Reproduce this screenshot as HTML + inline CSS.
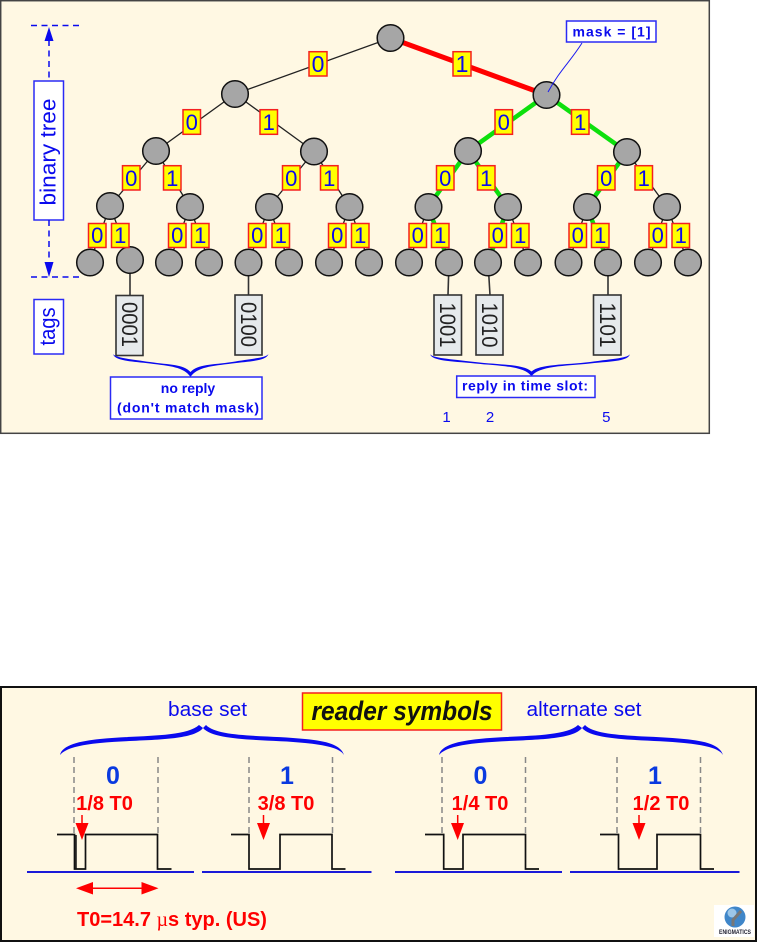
<!DOCTYPE html>
<html><head><meta charset="utf-8"><style>
html,body{margin:0;padding:0;background:#fff}
svg{display:block}
text{font-family:"Liberation Sans",sans-serif}
.e{stroke:#222;stroke-width:1.3;fill:none}
.r{stroke:#f00;stroke-width:5;fill:none}
.g{stroke:#0de00d;stroke-width:4.5;fill:none}
.n circle{fill:#a6a6a6;stroke:#111;stroke-width:1.5}
.l rect{fill:#ff0;stroke:#f52020;stroke-width:1.5}
.d{fill:#0a0aee;text-anchor:middle;font-size:22px}
.b{fill:#fff;stroke:#2a2af5;stroke-width:1.5}
.t{fill:#0a0aee;font-size:14px;font-weight:bold;text-anchor:middle}
.tag rect{fill:#e6eaec;stroke:#333;stroke-width:1.6}
.tag text{font-size:22px;fill:#222;text-anchor:middle}
.w{fill:none;stroke:#111;stroke-width:1.7}
.v{stroke:#888;stroke-width:1.5;stroke-dasharray:6 4;fill:none}
.bl{stroke:#1a1ad8;stroke-width:2}
.o{fill:#f00;font-size:20px;font-weight:bold;text-anchor:middle}
.z{fill:#0a3ae0;font-size:25px;font-weight:bold;text-anchor:middle}
.a{stroke:#f00;stroke-width:1.5}
</style></head><body>
<svg width="757" height="942" viewBox="0 0 757 942" xmlns="http://www.w3.org/2000/svg">
<rect x="0.7" y="0.7" width="708.6" height="432.6" fill="#fff8e3" stroke="#444" stroke-width="1.5"/>

<path class="e" d="M390.5 38L235 94M235 94L156 151M235 94L314 151.5M156 151L110 206M156 151L190 207M314 151.5L269 207M314 151.5L349.5 207M627 152L667 207M110 206L90 262M110 206L130 260M190 207L169 262M190 207L209 262M269 207L248.5 262M269 207L289 262M349.5 207L329 262M349.5 207L369 262M428 207L409 262M508 207L528 262M587 207L568.7 262M667 207L648 262M667 207L688 262"/>
<path class="r" d="M390.5 38L546.5 95"/>
<path class="g" d="M546.5 95L468 151M546.5 95L627 152M468 151L428 207M468 151L508 207M627 152L587 207M428 207L449 262M508 207L488 262M587 207L608 262"/>
<path d="M130 262V295M248.5 262V295M449 262L448 295M488 262L490 295M608 262V295" stroke="#333" stroke-width="1.6" fill="none"/>

<g class="n">
<circle cx="390.5" cy="38" r="13.3"/><circle cx="235" cy="94" r="13.3"/><circle cx="546.5" cy="95" r="13.3"/>
<circle cx="156" cy="151" r="13.3"/><circle cx="314" cy="151.5" r="13.3"/><circle cx="468" cy="151" r="13.3"/><circle cx="627" cy="152" r="13.3"/>
<circle cx="110" cy="206" r="13.3"/><circle cx="190" cy="207" r="13.3"/><circle cx="269" cy="207" r="13.3"/><circle cx="349.5" cy="207" r="13.3"/><circle cx="428.5" cy="207" r="13.3"/><circle cx="508" cy="207" r="13.3"/><circle cx="587" cy="207" r="13.3"/><circle cx="667" cy="207" r="13.3"/>
<circle cx="90" cy="262.5" r="13.3"/><circle cx="130" cy="260" r="13.3"/><circle cx="169" cy="262.5" r="13.3"/><circle cx="209" cy="262.5" r="13.3"/><circle cx="248.5" cy="262.5" r="13.3"/><circle cx="289" cy="262.5" r="13.3"/><circle cx="329" cy="262.5" r="13.3"/><circle cx="369" cy="262.5" r="13.3"/><circle cx="409" cy="262.5" r="13.3"/><circle cx="449" cy="262.5" r="13.3"/><circle cx="488" cy="262.5" r="13.3"/><circle cx="528" cy="262.5" r="13.3"/><circle cx="568.5" cy="262.5" r="13.3"/><circle cx="608" cy="262.5" r="13.3"/><circle cx="648" cy="262.5" r="13.3"/><circle cx="688" cy="262.5" r="13.3"/>
</g>
<path d="M582 43C570 62 560 70 548 92" stroke="#1a1af0" stroke-width="1" fill="none"/>

<g class="l">
<rect x="309" y="51.7" width="18" height="24.3"/><rect x="453" y="51.7" width="18" height="24.3"/>
<rect x="183" y="109.7" width="17.5" height="24.6"/><rect x="260" y="109.7" width="17.5" height="24.6"/><rect x="495" y="109.7" width="17.5" height="24.6"/><rect x="571.5" y="109.7" width="17.5" height="24.6"/>
<rect x="122.5" y="165.7" width="17.5" height="24.3"/><rect x="163.5" y="165.7" width="17.5" height="24.3"/><rect x="282.5" y="165.7" width="17.5" height="24.3"/><rect x="320.5" y="165.7" width="17.5" height="24.3"/><rect x="436.5" y="165.7" width="17.5" height="24.3"/><rect x="477.5" y="165.7" width="17.5" height="24.3"/><rect x="597.5" y="165.7" width="17.5" height="24.3"/><rect x="635" y="165.7" width="17.5" height="24.3"/>
<rect x="88.5" y="223.5" width="17.5" height="24"/><rect x="111.5" y="223.5" width="17.5" height="24"/><rect x="168.5" y="223.5" width="17.5" height="24"/><rect x="191.5" y="223.5" width="17.5" height="24"/><rect x="248.5" y="223.5" width="17.5" height="24"/><rect x="272" y="223.5" width="17.5" height="24"/><rect x="328.5" y="223.5" width="17.5" height="24"/><rect x="351.5" y="223.5" width="17.5" height="24"/><rect x="409" y="223.5" width="17.5" height="24"/><rect x="431.5" y="223.5" width="17.5" height="24"/><rect x="489" y="223.5" width="17.5" height="24"/><rect x="511.5" y="223.5" width="17.5" height="24"/><rect x="569" y="223.5" width="17.5" height="24"/><rect x="591.5" y="223.5" width="17.5" height="24"/><rect x="649" y="223.5" width="17.5" height="24"/><rect x="672" y="223.5" width="17.5" height="24"/>
</g>
<g class="d">
<text x="318" y="72" style="font-size:23px">0</text><text x="462" y="72" style="font-size:23px">1</text>
<text x="191.7" y="130">0</text><text x="268.7" y="130">1</text><text x="503.7" y="130">0</text><text x="580.2" y="130">1</text>
<text x="131.2" y="186">0</text><text x="172.2" y="186">1</text><text x="291.2" y="186">0</text><text x="329.2" y="186">1</text><text x="445.2" y="186">0</text><text x="486.2" y="186">1</text><text x="606.2" y="186">0</text><text x="643.7" y="186">1</text>
<text x="97.2" y="243">0</text><text x="120.2" y="243">1</text><text x="177.2" y="243">0</text><text x="200.2" y="243">1</text><text x="257.2" y="243">0</text><text x="280.7" y="243">1</text><text x="337.2" y="243">0</text><text x="360.2" y="243">1</text><text x="417.7" y="243">0</text><text x="440.2" y="243">1</text><text x="497.7" y="243">0</text><text x="520.2" y="243">1</text><text x="577.7" y="243">0</text><text x="600.2" y="243">1</text><text x="657.7" y="243">0</text><text x="680.7" y="243">1</text>
</g>

<g class="tag">
<rect x="116" y="295.5" width="27" height="60"/><text transform="translate(122,324.5) rotate(90)" textLength="45" lengthAdjust="spacingAndGlyphs">0001</text>
<rect x="235" y="295" width="27" height="60"/><text transform="translate(241,324.5) rotate(90)" textLength="45" lengthAdjust="spacingAndGlyphs">0100</text>
<rect x="434" y="295" width="27.5" height="60"/><text transform="translate(440,325) rotate(90)" textLength="45" lengthAdjust="spacingAndGlyphs">1001</text>
<rect x="476" y="295" width="27" height="60"/><text transform="translate(482,325) rotate(90)" textLength="45" lengthAdjust="spacingAndGlyphs">1010</text>
<rect x="593.5" y="295" width="27.5" height="60"/><text transform="translate(600,325) rotate(90)" textLength="45" lengthAdjust="spacingAndGlyphs">1101</text>
</g>

<path fill="#0a0aee" d="M113 354C115 361 130 361 150 363.5C170 366 184 367 190.5 377C197 367 212 366 232 363.5C252 361 266 361 268.5 354C266 358 252 358.5 232 362C212 365 198 364 190.5 372C183 364 170 365 150 362C130 359 116 358 113 354Z"/>
<path fill="#0a0aee" d="M430 354C432 361 450 361 475 363.5C500 366 525 366 531.5 376.5C538 366 565 366 590 363.5C615 361 628 361 630 354C628 358 615 358.5 590 362C565 365 540 364 531.5 371.5C523 364 500 365 475 362C450 359 432 358 430 354Z"/>

<rect class="b" x="34" y="81" width="29.5" height="139"/>
<text transform="translate(55.5,205.5) rotate(-90)" fill="#0a0aee" style="font-size:22px" textLength="107" lengthAdjust="spacingAndGlyphs">binary tree</text>
<rect class="b" x="34" y="299.5" width="29.5" height="54.5"/>
<text transform="translate(55,345.5) rotate(-90)" fill="#0a0aee" style="font-size:22px" textLength="38" lengthAdjust="spacingAndGlyphs">tags</text>
<rect class="b" x="110.5" y="377" width="151.5" height="42"/>
<text class="t" x="188" y="393">no reply</text>
<text class="t" x="188" y="412.5" textLength="142" lengthAdjust="spacing">(don't match mask)</text>
<rect class="b" x="456.7" y="376" width="138.3" height="21.5"/>
<text class="t" x="525" y="390.7" textLength="126" lengthAdjust="spacing">reply in time slot:</text>
<rect class="b" x="566.5" y="21" width="89.5" height="21"/>
<text class="t" x="611.5" y="36.3" textLength="78" lengthAdjust="spacing">mask = [1]</text>
<g fill="#0a0aee" text-anchor="middle"><text x="446.5" y="422" style="font-size:15px">1</text><text x="490" y="422" style="font-size:15px">2</text><text x="606.3" y="422" style="font-size:15px">5</text></g>

<path d="M31 25.5H82M31 277H82M49 40V81M49 220V265" stroke="#0a0aee" stroke-width="1.5" stroke-dasharray="6 4.5" fill="none"/>
<path fill="#0a0aee" d="M49 27L44.5 41H53.5Z M49 277L44.5 262H53.5Z"/>

<!-- lower panel -->
<rect x="1" y="687" width="755" height="254" fill="#fff8e3" stroke="#111" stroke-width="2"/>
<rect x="302.5" y="693" width="199" height="37" fill="#ff0" stroke="#f52020" stroke-width="1.5"/>
<text x="402" y="720" text-anchor="middle" fill="#111" font-weight="bold" font-style="italic" style="font-size:27px" textLength="181" lengthAdjust="spacingAndGlyphs">reader symbols</text>
<text x="207.5" y="716" text-anchor="middle" fill="#0a0aee" style="font-size:20px" textLength="79" lengthAdjust="spacingAndGlyphs">base set</text>
<text x="584" y="716" text-anchor="middle" fill="#0a0aee" style="font-size:20px" textLength="115" lengthAdjust="spacingAndGlyphs">alternate set</text>

<path fill="#0a0aee" d="M60 755C62 745 80 741 100 739C135 735 185 738 199 725L203 728C192 742 140 739 100 743C80 745 66 748 60 755Z M206 725C218 738 270 735 305 739C327 741 341 745 344 755C340 748 325 745 305 743C270 739 215 742 203 728Z"/>
<path fill="#0a0aee" d="M439 755C441 745 459 741 479 739C514 735 564 738 578 725L582 728C571 742 519 739 479 743C459 745 445 748 439 755Z M585 725C597 738 649 735 684 739C706 741 720 745 723 755C719 748 704 745 684 743C649 739 594 742 582 728Z"/>

<path class="v" d="M74 757V834M158 757V834M249 757V834M332.5 757V834M442 757V834M525.5 757V834M617 757V834M700.5 757V834"/>
<path class="bl" d="M27 872H194M202 872H371.5M395 872H562M570 872H739.5"/>
<path class="w" d="M57 834.5H74.5V869H85.5V834.5H157.5V869H171.5"/>
<path d="M76 835V869" stroke="#111" stroke-width="1.5"/>
<path class="w" d="M231 834.5H249V869H280V834.5H332V869H345.5"/>
<path class="w" d="M425 834.5H443.7V869H463V834.5H525.5V869H539"/>
<path class="w" d="M600 834.5H618.5V869H657V834.5H700.5V869H714"/>

<text class="z" x="113" y="784">0</text><text class="z" x="287" y="784">1</text><text class="z" x="480.5" y="784">0</text><text class="z" x="655" y="784">1</text>
<text class="o" x="104.5" y="810">1/8 T0</text><text class="o" x="286" y="810">3/8 T0</text><text class="o" x="480" y="810">1/4 T0</text><text class="o" x="661" y="810">1/2 T0</text>

<path class="a" d="M82 815V825M263.5 815V825M457.7 815V825M639 815V825"/>
<path fill="#f00" d="M75.5 823H88.5L82 840Z M257 823H270L263.5 840Z M451 823H464L457.7 840Z M632.5 823H645.5L639 840Z"/>
<path class="a" d="M85 888.3H150"/>
<path fill="#f00" d="M76 888.3L93 882V894.5Z M158.5 888.3L141.5 882V894.5Z"/>
<text x="77" y="926" fill="#f00" font-weight="bold" style="font-size:20px">T0=14.7 <tspan style="font-family:'Liberation Serif',serif;font-weight:normal">µ</tspan>s typ. (US)</text>

<rect x="714" y="905" width="40" height="32" fill="#fff"/>
<circle cx="735" cy="917" r="10.5" fill="#3f86c9"/>
<circle cx="732" cy="913" r="4.5" fill="#9cc6e8"/>
<path d="M741 911L733 920V926" stroke="#777" stroke-width="3" fill="none"/>
<text x="735" y="934" text-anchor="middle" fill="#223" font-weight="bold" style="font-size:6px" textLength="32" lengthAdjust="spacingAndGlyphs">ENIGMATICS</text>
</svg>
</body></html>
